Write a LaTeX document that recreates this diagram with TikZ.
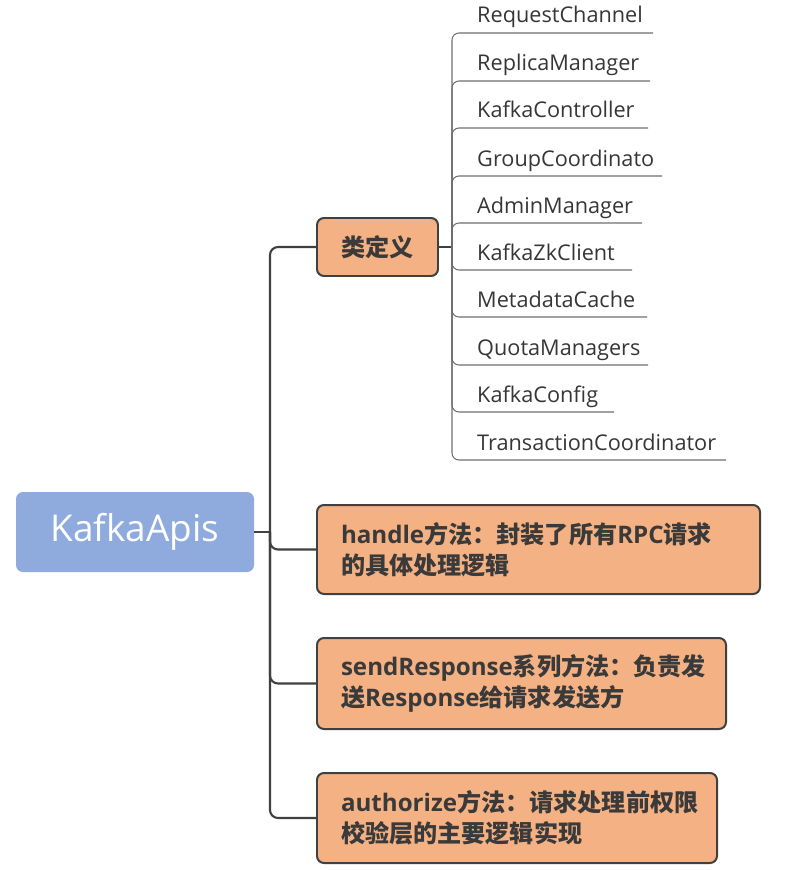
\documentclass[tikz,border=0pt]{standalone}
\usepackage{fontspec}
\setmainfont{Open Sans}
\newfontfamily\cjk{Noto Sans CJK SC}
\newcommand{\zh}[1]{{\cjk #1}}
\newcommand{\pxu}{0.03cm}
\usepackage{tikz}
\usetikzlibrary{positioning,calc}
\definecolor{apiblue}{RGB}{143,170,220}
\definecolor{boxorange}{RGB}{244,177,131}
\definecolor{inkgray}{RGB}{64,64,64}
\definecolor{subgray}{RGB}{110,110,110}

\begin{document}
\begin{tikzpicture}[
  x=\pxu, y=-\pxu,
  rootbox/.style={fill=apiblue, rounded corners=7*\pxu,
                  minimum width=238*\pxu, minimum height=80*\pxu,
                  text=white, font=\fontsize{31.5}{34}\selectfont},
  topic/.style={draw=inkgray, line width=1.7pt, fill=boxorange,
                rounded corners=7*\pxu, anchor=west, align=left,
                inner xsep=24*\pxu, text=inkgray!90!black,
                font=\fontsize{20.6}{26.4}\selectfont\bfseries},
  item/.style={anchor=base west, inner sep=0pt, text=inkgray!85!black,
               font=\fontsize{18.5}{20}\selectfont},
  link/.style={draw=inkgray, line width=1.8pt, rounded corners=8*\pxu},
  sublink/.style={draw=subgray, line width=0.9pt, rounded corners=7*\pxu},
]
\useasboundingbox (0,0) rectangle (801,870);

%% Root
\node[rootbox] (root) at (135,532) {KafkaApis};

%% Topics
\node[topic, minimum width=121*\pxu, minimum height=58*\pxu] (classdef)
  at (316,247) {\zh{类定义}};
\node[topic, minimum height=89*\pxu, text width=395*\pxu] (handle)
  at (316,549.5) {handle\zh{方法：封装了所有}RPC\zh{请求}\\\zh{的具体处理逻辑}};
\node[topic, minimum height=91*\pxu, text width=361*\pxu] (sendresp)
  at (316,683.5) {sendResponse\zh{系列方法：负责发}\\\zh{送}Response\zh{给请求发送方}};
\node[topic, minimum height=90*\pxu, text width=352*\pxu] (authz)
  at (316,818) {authorize\zh{方法：请求处理前权限}\\\zh{校验层的主要逻辑实现}};

%% Trunk
\coordinate (trunk) at (270,532);
\draw[link] (root.east) -- (trunk);
\foreach \t in {classdef,handle,sendresp,authz}
  \draw[link] (trunk) |- (\t.west);

%% Class members
\coordinate (sub) at (452,247);
\draw[link] (classdef.east) -- (sub);
\foreach \n/\y/\e in {RequestChannel/33/653, ReplicaManager/81/650,
    KafkaController/128/648, GroupCoordinato/176/662,
    AdminManager/223/642, KafkaZkClient/270/632,
    MetadataCache/317/647, QuotaManagers/365/648,
    KafkaConfig/412/614, TransactionCoordinator/460/726} {
  \node[item] (it-\n) at (477,\y-10) {\n};
  \coordinate (ul-\n) at (\e,\y);
  \draw[sublink] (sub) |- (ul-\n);
}

\end{tikzpicture}
\end{document}
